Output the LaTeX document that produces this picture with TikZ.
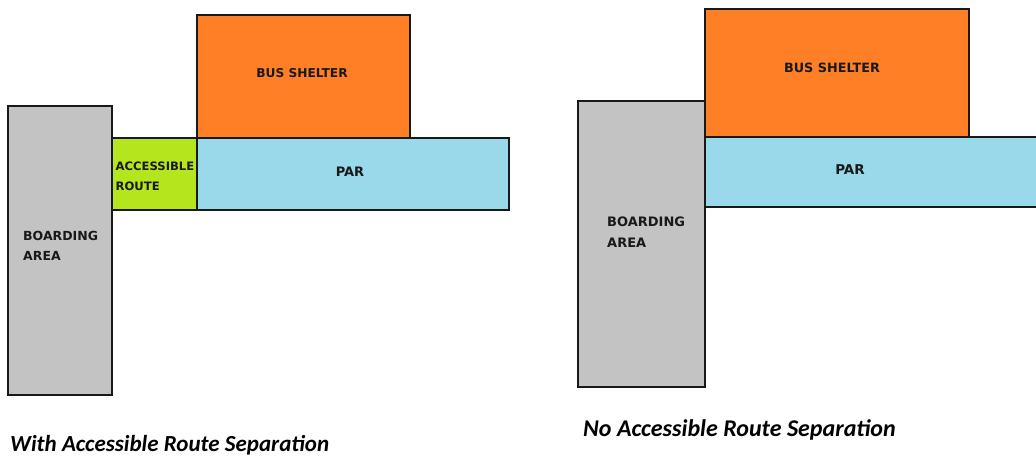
\documentclass[tikz,border=0pt]{standalone}
\usepackage{fontspec}
\setmainfont{DejaVu Sans}
\newfontfamily\captionfont{Carlito}
\definecolor{shelter}{RGB}{255,127,39}
\definecolor{parblue}{RGB}{153,217,234}
\definecolor{routegreen}{RGB}{181,230,29}
\definecolor{boardgray}{RGB}{195,195,195}
\definecolor{edge}{RGB}{25,25,25}
\begin{document}
\begin{tikzpicture}[x=1pt,y=-1pt,
  zone/.style={draw=edge,line width=2.6pt},
  tag/.style={font=\bfseries\fontsize{12.2}{20}\selectfont,text=black!90,inner sep=0pt},
  tagB/.style={tag,font=\bfseries\fontsize{12.8}{21}\selectfont},
  caption/.style={font=\captionfont\bfseries\itshape\fontsize{23}{26}\selectfont,inner sep=0pt,anchor=west}]
\useasboundingbox (0,0) rectangle (1036,457);
\begin{scope}
\clip (0,0) rectangle (1036,457);
% ---- layout with a separate accessible route ----
\path[zone,fill=shelter]    (197,15)  rectangle (410,138);
\path[zone,fill=parblue]    (197,138) rectangle (509,210);
\path[zone,fill=routegreen] (112,138) rectangle (197,210);
\path[zone,fill=boardgray]  (8,106)   rectangle (112,395);
\node[tag] (shelterA) at (302,73) {BUS SHELTER};
\node[tag,font=\bfseries\fontsize{13}{20}\selectfont] (parA) at (350,172) {PAR};
\node[tag,align=left,anchor=west,font=\bfseries\fontsize{11.6}{20}\selectfont] (routeA) at (115.5,176) {ACCESSIBLE\\ROUTE};
\node[tag,align=left,anchor=west,font=\bfseries\fontsize{12.5}{20}\selectfont] (boardA) at (23,246) {BOARDING\\AREA};
\node[caption] (capA) at (10,445) {With Accessible Route Separation};
% ---- layout without a separate accessible route ----
\path[zone,fill=shelter]   (705,9)   rectangle (969,137);
\path[zone,fill=parblue]   (705,137) rectangle (1045,207);
\path[zone,fill=boardgray] (578,101) rectangle (705,387);
\node[tagB] (shelterB) at (832,68) {BUS SHELTER};
\node[tagB,font=\bfseries\fontsize{13.5}{21}\selectfont] (parB) at (850,170) {PAR};
\node[tagB,align=left,anchor=west,font=\bfseries\fontsize{13}{21}\selectfont] (boardB) at (607,232.5) {BOARDING\\AREA};
\node[caption,font=\captionfont\bfseries\itshape\fontsize{24}{27}\selectfont] (capB) at (583,430) {No Accessible Route Separation};
\end{scope}
\end{tikzpicture}
\end{document}
